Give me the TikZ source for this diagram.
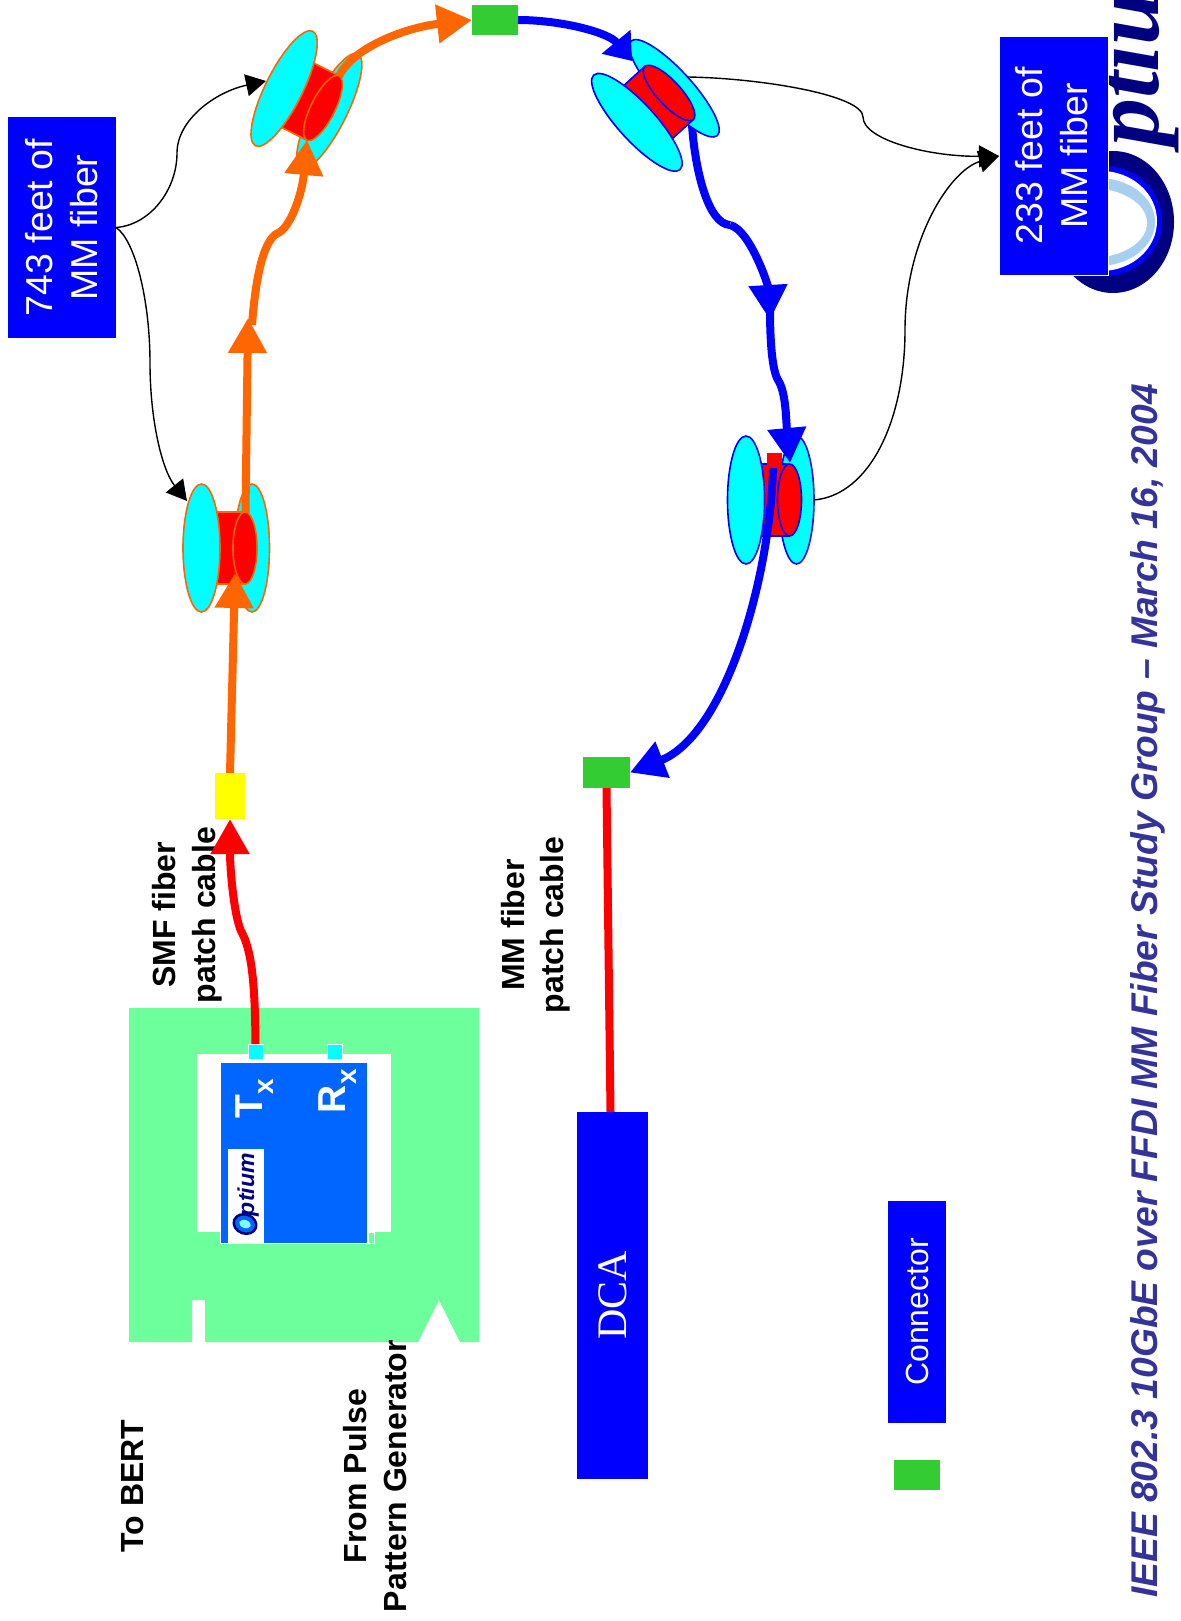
\documentclass[tikz,border=0pt]{standalone}
\usepackage{fontspec}
\setmainfont{Liberation Sans}
\newfontfamily\serifdca{Liberation Serif}
\usetikzlibrary{arrows.meta}
\definecolor{boardgreen}{HTML}{6CFF9C}
\definecolor{modblue}{HTML}{0066FF}
\definecolor{connblue}{HTML}{0000FF}
\definecolor{conngreen}{HTML}{33CC33}
\definecolor{fiberorange}{HTML}{FF6600}
\definecolor{logonavy}{HTML}{000080}
\definecolor{logolight}{HTML}{A6CFF0}
\definecolor{footblue}{HTML}{333399}
\definecolor{aqua}{HTML}{00FFFF}
\definecolor{connyellow}{HTML}{FFFF00}
\definecolor{purered}{HTML}{FF0000}
\tikzset{
  every node/.style={inner sep=0pt,outer sep=0pt},
  portnode/.style={fill=aqua,draw=white,line width=1pt,minimum width=15pt,minimum height=15pt},
  lab/.style={font=\fontsize{32}{39.5}\selectfont\bfseries,text=black,rotate=90,align=center},
  redfiber/.style={draw=purered,line width=8pt},
  orangefiber/.style={draw=fiberorange,line width=8pt},
  bluefiber/.style={draw=connblue,line width=8pt},
  bighead/.style={-{Triangle[length=35pt,width=37pt]}},
  shorthead/.style={-{Triangle[length=25pt,width=36pt]}},
  thin black/.style={draw=black,line width=1.4pt,-{Triangle[length=20pt,width=22pt]}},
}
\newcommand{\spoolat}[5]{%
  \begin{scope}[shift={(#2,#3)},rotate=#4]
    \coordinate (#1) at (0,0);
    \coordinate (#1-top) at (0,-36);
    \coordinate (#1-east) at (24.5,0);
    \filldraw[fill=aqua,draw=#5,line width=1.6pt] (7,0) ellipse [x radius=17.5,y radius=64];
    \filldraw[fill=purered,draw=#5,line width=1.6pt] (-43,-36) rectangle (0,36);
    \filldraw[fill=aqua,draw=#5,line width=1.6pt] (-43.5,0) ellipse [x radius=18.5,y radius=64];
    \filldraw[fill=purered,draw=#5,line width=1.6pt] (0,0) ellipse [x radius=12,y radius=36];
  \end{scope}}
\begin{document}
\begin{tikzpicture}[x=1pt,y=-1pt]
\useasboundingbox (0,0) rectangle (1180,1621);
\fill[white] (0,0) rectangle (1180,1621);

% logo top right
\begin{scope}
  \clip (0,0) rectangle (1180,1621);
  \fill[logonavy] (1113,222) ellipse [x radius=61,y radius=71];
  \fill[connblue] (1105,221) ellipse [x radius=57,y radius=55];
  \fill[white] (1101,221) ellipse [x radius=56,y radius=50];
  \fill[logolight] (1098,222) ellipse [x radius=57,y radius=44];
  \fill[white] (1090,223) ellipse [x radius=57,y radius=35];
  \node[rotate=90,anchor=base west,text=logonavy,font=\serifdca\fontsize{96}{96}\selectfont\bfseries\itshape] (logotext) at (1158,147) {ptiu};
\end{scope}

% boxes
\node[fill=connblue,draw=white,line width=1pt,minimum width=109pt,minimum height=238pt,text=white] (boxB) at (1053.5,156)
  {\hspace*{4pt}\rotatebox[origin=c]{90}{\fontsize{37.5}{45}\selectfont\begin{tabular}{@{}c@{}}233 feet of\\[0pt]MM fiber\end{tabular}}};
\node[fill=connblue,minimum width=108pt,minimum height=221pt,text=white] (boxA) at (62,227.5)
  {\hspace*{8pt}\rotatebox[origin=c]{90}{\fontsize{37.5}{45}\selectfont\begin{tabular}{@{}c@{}}743 feet of\\[0pt]MM fiber\end{tabular}}};
\node[fill=connblue,minimum width=71pt,minimum height=367pt,text=white] (dca) at (612.5,1295.5)
  {\rotatebox[origin=c]{90}{\serifdca\fontsize{42}{42}\selectfont DCA}};
\node[fill=connblue,minimum width=58pt,minimum height=222pt,text=white] (legend) at (917,1312)
  {\rotatebox[origin=c]{90}{\fontsize{32}{32}\selectfont Connector}};

% connectors
\node[fill=connyellow,minimum width=30pt,minimum height=46pt] (yconn) at (230,796) {};
\node[fill=conngreen,minimum width=46pt,minimum height=30pt] (gtop) at (495,20) {};
\node[fill=conngreen,minimum width=47pt,minimum height=31pt] (glow) at (606.5,772.5) {};
\node[fill=conngreen,minimum width=46pt,minimum height=30pt] (glegend) at (917,1475) {};

% board
\fill[boardgreen] (129,1008) -- (479,1008) -- (479,1342) -- (460,1342) -- (439,1300) -- (418,1342)
  -- (205,1342) -- (205,1300) -- (192,1300) -- (192,1342) -- (129,1342) -- cycle;
\fill[white] (197,1054) rectangle (391,1232);
\filldraw[fill=boardgreen,draw=white,line width=1pt] (368,1232) rectangle (374,1243);
\node[fill=modblue,draw=white,line width=1pt,minimum width=147pt,minimum height=181pt] (module) at (293.5,1152.5) {};
\node[portnode] (tx) at (255.5,1051.5) {};
\node[portnode] (rx) at (334.5,1051.5) {};
\node[fill=white,minimum width=36pt,minimum height=95pt] (optlabel) at (246,1196.5) {};
\begin{scope}[shift={(245,1224)},rotate=-20]
  \filldraw[fill=modblue,draw=logonavy,line width=2.5pt] (0,0) ellipse [x radius=11.5,y radius=9.5];
  \fill[aqua!50!white] (0,0) ellipse [x radius=6,y radius=4];
\end{scope}
\node[rotate=90,anchor=base west,text=logonavy,font=\fontsize{23}{23}\selectfont\bfseries\itshape] (opttext) at (254,1216) {ptium};
\node[rotate=90,anchor=base west,text=white,font=\fontsize{39}{39}\selectfont\bfseries] (txlabel) at (262,1118) {T\raisebox{-11pt}{\fontsize{28}{28}\selectfont x}};
\node[rotate=90,anchor=base west,text=white,font=\fontsize{39}{39}\selectfont\bfseries] (rxlabel) at (345,1113) {R\raisebox{-11pt}{\fontsize{28}{28}\selectfont x}};

% labels
\node[lab] (smf) at (187,915) {SMF fiber\\patch cable};
\node[lab] (mmf) at (535.5,925) {MM fiber\\patch cable};
\node[lab] (bert) at (133,1486) {To BERT};
\node[lab] (pulse) at (375,1476) {From Pulse\\Pattern Generator};
\node[rotate=90,anchor=base,text=footblue,font=\fontsize{37.2}{37.2}\selectfont\bfseries\itshape] (footer) at (1157,991)
  {IEEE 802.3 10GbE over FFDI MM Fiber Study Group – March 16, 2004};

% blue fibre that runs behind the upper blue spool
\coordinate (bTwoStart) at (692,125);
\path[bluefiber] (bTwoStart) .. controls (695,170) and (708,224) .. (730,225);

% spools
\spoolat{sOne}{245}{548}{0}{fiberorange}
\spoolat{sTwo}{323}{108}{-26.6}{fiberorange}
\spoolat{sThree}{669}{93}{42.4}{connblue}
\spoolat{sFour}{789.5}{500}{0}{connblue}
\fill[purered] (767,453) rectangle (782,466);

% named turning points
\coordinate (sThreeOut) at (687,77);
\coordinate (oOneTip) at (235,573);
\coordinate (oTwoStart) at (245.5,513);
\coordinate (oTwoTip) at (248,318);
\coordinate (oThreeStart) at (252,325);
\coordinate (oThreeTip) at (307,140);
\coordinate (bOneTip) at (632,61);
\coordinate (bTwoTip) at (770,320);
\coordinate (bThreeStart) at (770,310);
\coordinate (bThreeTip) at (790,463);
\coordinate (bFourStart) at (773,468);
\coordinate (kOneTip) at (266,81);
\coordinate (kTwoTip) at (187,501);

% fibres
\draw[redfiber,bighead] (tx.north) .. controls (255,985) and (252,950) .. (241,931) .. controls (234,915) and (230,870) .. (yconn.south);
\draw[orangefiber,bighead] (yconn.north) -- (oOneTip);
\draw[orangefiber,bighead] (oTwoStart) -- (oTwoTip);
\draw[orangefiber,bighead] (oThreeStart) .. controls (255,285) and (262,240) .. (278,233) .. controls (290,228) and (302,195) .. (oThreeTip);
\draw[orangefiber,bighead] (sTwo-top) .. controls (355,45) and (410,27) .. (gtop.west);
\draw[bluefiber,shorthead] (gtop.east) .. controls (560,20) and (608,32) .. (bOneTip);
\draw[bluefiber,bighead] (730,225) .. controls (750,230) and (768,285) .. (bTwoTip);
\draw[bluefiber,bighead] (bThreeStart) .. controls (770,340) and (772,370) .. (778,380) .. controls (786,392) and (786,420) .. (bThreeTip);
\draw[bluefiber,bighead] (bFourStart) .. controls (770,580) and (725,735) .. (glow.east);
\draw[redfiber] (glow.south) -- ([xshift=-2pt]dca.north);

% thin leaders
\draw[thin black] (boxA.east) .. controls (150,225) and (177,190) .. (177,153) .. controls (177,120) and (215,92) .. (kOneTip);
\draw[thin black] (boxA.east) .. controls (135,240) and (150,300) .. (150,363) .. controls (150,420) and (162,470) .. (kTwoTip);
\draw[thin black] (sThreeOut) .. controls (760,78) and (863,95) .. (863,117) .. controls (863,140) and (930,157) .. (boxB.west);
\draw[thin black] (sFour-east) .. controls (870,495) and (905,420) .. (905,330) .. controls (905,240) and (950,170) .. (boxB.west);
\end{tikzpicture}
\end{document}
